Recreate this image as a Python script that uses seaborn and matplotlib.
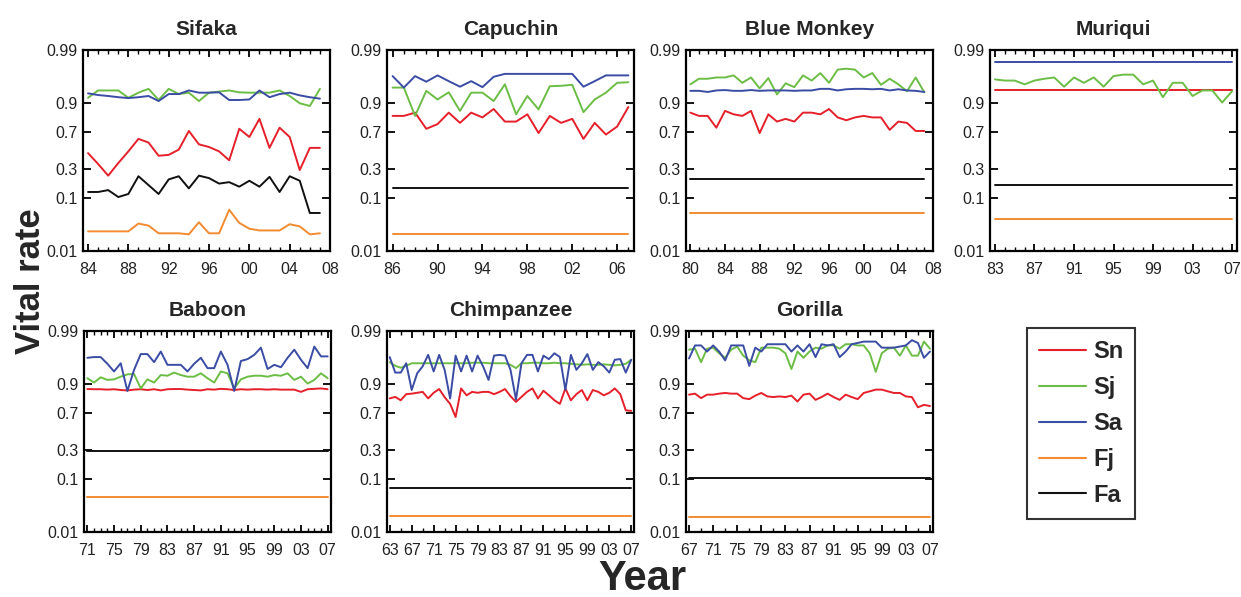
import numpy as np
import pandas as pd
import matplotlib
matplotlib.use("Agg")
import matplotlib.pyplot as plt
from matplotlib.lines import Line2D
from matplotlib.ticker import FixedLocator, NullLocator
import seaborn as sns

# --- rates & styling ---
RATES = ["Sn", "Sj", "Sa", "Fj", "Fa"]
COLORS = {"Sn": "#e5202a", "Sj": "#6cbd45", "Sa": "#3a4ca4", "Fj": "#f28b30", "Fa": "#111111"}
Y_TICKS = [0.01, 0.1, 0.3, 0.7, 0.9, 0.99]
Y_LABELS = ["0.01", "0.1", "0.3", "0.7", "0.9", "0.99"]

# --- Sifaka 1984-2007 ---
SIFAKA_SN = [0.47, 0.35, 0.24, 0.36, 0.49, 0.63, 0.59, 0.44, 0.45, 0.51, 0.71, 0.57,
             0.54, 0.49, 0.39, 0.73, 0.65, 0.81, 0.53, 0.74, 0.65, 0.29, 0.53, 0.53]
SIFAKA_SJ = [0.918, 0.94, 0.94, 0.94, 0.918, 0.934, 0.944, 0.91, 0.944, 0.93, 0.934, 0.906,
             0.934, 0.937, 0.94, 0.935, 0.934, 0.934, 0.934, 0.94, 0.924, 0.897, 0.885, 0.944]
SIFAKA_SA = [0.932, 0.927, 0.924, 0.92, 0.917, 0.92, 0.924, 0.906, 0.93, 0.93, 0.94, 0.934,
             0.934, 0.935, 0.91, 0.91, 0.912, 0.94, 0.92, 0.93, 0.934, 0.926, 0.92, 0.915]
SIFAKA_FJ = [0.024, 0.024, 0.024, 0.024, 0.024, 0.034, 0.031, 0.022, 0.022, 0.022, 0.021, 0.036,
             0.022, 0.022, 0.062, 0.035, 0.027, 0.025, 0.025, 0.025, 0.033, 0.030, 0.021, 0.022]
SIFAKA_FA = [0.13, 0.13, 0.14, 0.106, 0.12, 0.235, 0.17, 0.12, 0.21, 0.235, 0.15, 0.24,
             0.22, 0.18, 0.19, 0.16, 0.20, 0.16, 0.23, 0.13, 0.235, 0.20, 0.054, 0.054]

# --- Capuchin 1986-2007 ---
CAPUCHIN_SN = [0.83, 0.83, 0.85, 0.73, 0.77, 0.85, 0.78, 0.85, 0.82, 0.87, 0.79,
               0.79, 0.84, 0.69, 0.83, 0.78, 0.81, 0.63, 0.78, 0.675, 0.75, 0.88]
CAPUCHIN_SJ = [0.947, 0.947, 0.83, 0.939, 0.912, 0.935, 0.86, 0.934, 0.934, 0.906, 0.954,
               0.84, 0.924, 0.868, 0.95, 0.951, 0.953, 0.853, 0.912, 0.934, 0.957, 0.958]
CAPUCHIN_SA = [0.968, 0.947, 0.968, 0.959, 0.969, 0.96, 0.949, 0.96, 0.948, 0.967, 0.971,
               0.971, 0.971, 0.971, 0.971, 0.971, 0.971, 0.949, 0.96, 0.969, 0.969, 0.969]
CAPUCHIN_FJ = 0.021
CAPUCHIN_FA = 0.15

# --- Blue Monkey 1980-2007 ---
BLUE_SN = [0.85, 0.83, 0.83, 0.74, 0.86, 0.84, 0.83, 0.86, 0.69, 0.84, 0.79, 0.81, 0.79, 0.85,
           0.85, 0.84, 0.87, 0.82, 0.80, 0.82, 0.83, 0.82, 0.82, 0.72, 0.79, 0.78, 0.71, 0.71]
BLUE_SJ = [0.954, 0.964, 0.964, 0.966, 0.966, 0.969, 0.957, 0.966, 0.945, 0.965, 0.929, 0.956,
           0.948, 0.969, 0.961, 0.972, 0.957, 0.976, 0.977, 0.976, 0.966, 0.972, 0.953, 0.964,
           0.954, 0.938, 0.966, 0.935]
BLUE_SA = [0.939, 0.939, 0.936, 0.94, 0.941, 0.939, 0.939, 0.941, 0.939, 0.94, 0.94, 0.94,
           0.939, 0.94, 0.94, 0.944, 0.944, 0.94, 0.943, 0.944, 0.944, 0.943, 0.944, 0.94,
           0.943, 0.94, 0.939, 0.936]
BLUE_FJ = 0.053
BLUE_FA = 0.21

# --- Muriqui 1983-2007 ---
MURIQUI_SJ = [0.963, 0.961, 0.961, 0.954, 0.961, 0.964, 0.966, 0.949, 0.966, 0.957, 0.966,
              0.949, 0.968, 0.97, 0.97, 0.954, 0.961, 0.92, 0.957, 0.957, 0.924, 0.94,
              0.94, 0.90, 0.938]
MURIQUI_SN = 0.94
MURIQUI_SA = 0.983
MURIQUI_FJ = 0.041
MURIQUI_FA = 0.17

# --- Baboon 1971-2007 ---
BABOON_SN = [0.875, 0.874, 0.874, 0.872, 0.874, 0.87, 0.868, 0.872, 0.874, 0.87, 0.874, 0.868,
             0.874, 0.875, 0.875, 0.872, 0.87, 0.868, 0.874, 0.872, 0.876, 0.874, 0.87, 0.874,
             0.872, 0.874, 0.874, 0.872, 0.874, 0.872, 0.872, 0.872, 0.86, 0.874, 0.876,
             0.878, 0.874]
BABOON_SJ = [0.92, 0.904, 0.923, 0.914, 0.916, 0.925, 0.932, 0.933, 0.878, 0.916, 0.904, 0.93,
             0.928, 0.937, 0.93, 0.925, 0.925, 0.935, 0.92, 0.904, 0.94, 0.935, 0.878, 0.916,
             0.925, 0.928, 0.928, 0.925, 0.93, 0.928, 0.935, 0.914, 0.925, 0.9, 0.914,
             0.935, 0.92]
BABOON_SA = [0.967, 0.968, 0.968, 0.957, 0.94, 0.958, 0.865, 0.944, 0.972, 0.972, 0.96, 0.975,
             0.955, 0.955, 0.955, 0.94, 0.957, 0.967, 0.948, 0.948, 0.975, 0.955, 0.865, 0.962,
             0.965, 0.971, 0.979, 0.946, 0.955, 0.95, 0.967, 0.977, 0.964, 0.948, 0.98,
             0.969, 0.969]
BABOON_FJ = 0.047
BABOON_FA = 0.29

# --- Chimpanzee 1963-2007 ---
CHIMP_SN = [0.82, 0.83, 0.807, 0.847, 0.85, 0.855, 0.86, 0.82, 0.855, 0.875, 0.828, 0.78,
            0.66, 0.878, 0.84, 0.86, 0.855, 0.86, 0.86, 0.847, 0.86, 0.875, 0.835, 0.795,
            0.83, 0.86, 0.878, 0.82, 0.866, 0.84, 0.807, 0.78, 0.878, 0.807, 0.847, 0.87,
            0.807, 0.87, 0.86, 0.84, 0.855, 0.878, 0.847, 0.725, 0.72]
CHIMP_SJ = [0.96, 0.953, 0.949, 0.953, 0.958, 0.958, 0.958, 0.958, 0.958, 0.958, 0.958, 0.958,
            0.958, 0.958, 0.958, 0.959, 0.959, 0.959, 0.958, 0.958, 0.958, 0.958, 0.955, 0.948,
            0.958, 0.958, 0.959, 0.959, 0.958, 0.958, 0.959, 0.958, 0.958, 0.957, 0.956, 0.955,
            0.956, 0.955, 0.955, 0.956, 0.955, 0.954, 0.955, 0.957, 0.964]
CHIMP_SA = [0.968, 0.937, 0.937, 0.958, 0.87, 0.935, 0.952, 0.971, 0.94, 0.971, 0.944, 0.819,
            0.97, 0.94, 0.97, 0.94, 0.97, 0.952, 0.914, 0.97, 0.971, 0.97, 0.944, 0.812,
            0.958, 0.971, 0.971, 0.94, 0.97, 0.965, 0.973, 0.968, 0.87, 0.971, 0.944, 0.958,
            0.972, 0.944, 0.96, 0.952, 0.937, 0.964, 0.965, 0.937, 0.964]
CHIMP_FJ = 0.0206
CHIMP_FA = 0.07

# --- Gorilla 1967-2007 ---
GORILLA_SN = [0.844, 0.85, 0.822, 0.844, 0.844, 0.85, 0.854, 0.85, 0.85, 0.822, 0.815, 0.838,
              0.854, 0.833, 0.829, 0.833, 0.829, 0.838, 0.798, 0.844, 0.85, 0.81, 0.829, 0.85,
              0.829, 0.81, 0.844, 0.829, 0.815, 0.854, 0.863, 0.872, 0.872, 0.863, 0.854,
              0.854, 0.833, 0.829, 0.752, 0.772, 0.763]
GORILLA_SJ = [0.977, 0.978, 0.96, 0.978, 0.979, 0.973, 0.967, 0.977, 0.98, 0.97, 0.963, 0.96,
              0.979, 0.979, 0.979, 0.978, 0.973, 0.946, 0.975, 0.967, 0.975, 0.979, 0.978,
              0.981, 0.981, 0.978, 0.982, 0.982, 0.981, 0.981, 0.973, 0.939, 0.973, 0.978,
              0.979, 0.97, 0.981, 0.97, 0.97, 0.984, 0.978]
GORILLA_SA = [0.966, 0.981, 0.981, 0.975, 0.981, 0.975, 0.963, 0.981, 0.981, 0.981, 0.953,
              0.979, 0.975, 0.982, 0.982, 0.982, 0.982, 0.975, 0.981, 0.975, 0.982, 0.968,
              0.982, 0.981, 0.982, 0.968, 0.975, 0.982, 0.983, 0.984, 0.984, 0.984, 0.979,
              0.979, 0.979, 0.98, 0.981, 0.985, 0.983, 0.967, 0.975]
GORILLA_FJ = 0.0195
GORILLA_FA = 0.106

# (title, first year, last axis year, rates, minor tick step, pixel box left/top)
PANELS = [
    ("Sifaka", 1984, 2008, [SIFAKA_SN, SIFAKA_SJ, SIFAKA_SA, SIFAKA_FJ, SIFAKA_FA], 1, (83, 50)),
    ("Capuchin", 1986, 2007.5, [CAPUCHIN_SN, CAPUCHIN_SJ, CAPUCHIN_SA, CAPUCHIN_FJ, CAPUCHIN_FA], 1, (387, 50)),
    ("Blue Monkey", 1980, 2008, [BLUE_SN, BLUE_SJ, BLUE_SA, BLUE_FJ, BLUE_FA], 1, (686, 50)),
    ("Muriqui", 1983, 2007.5, [MURIQUI_SN, MURIQUI_SJ, MURIQUI_SA, MURIQUI_FJ, MURIQUI_FA], 1, (990, 50)),
    ("Baboon", 1971, 2007.5, [BABOON_SN, BABOON_SJ, BABOON_SA, BABOON_FJ, BABOON_FA], 1, (84, 331)),
    ("Chimpanzee", 1963, 2007.5, [CHIMP_SN, CHIMP_SJ, CHIMP_SA, CHIMP_FJ, CHIMP_FA], 2, (387, 331)),
    ("Gorilla", 1967, 2007.5, [GORILLA_SN, GORILLA_SJ, GORILLA_SA, GORILLA_FJ, GORILLA_FA], 2, (686, 331)),
]

W, H = 1241, 597
AX_W, AX_H = 247, 201

sns.set_style("ticks")
plt.rcParams["font.family"] = ["Liberation Sans", "DejaVu Sans"]

fig = plt.figure(figsize=(W / 100, H / 100), dpi=100)

for title, first, xmax, rates, minor_step, (px, py) in PANELS:
    ax = fig.add_axes([px / W, 1 - (py + AX_H) / H, AX_W / W, AX_H / H])
    years = np.arange(first, 2008)
    rows = []
    for name, vals in zip(RATES, rates):
        if np.isscalar(vals):
            vals = [vals] * len(years)  # constant rate across the series
        rows.append(pd.DataFrame({"year": years, "value": vals, "rate": name}))
    df = pd.concat(rows, ignore_index=True)

    sns.lineplot(data=df, x="year", y="value", hue="rate", hue_order=RATES,
                 palette=COLORS, estimator=None, legend=False, linewidth=1.4, ax=ax)

    ax.set_yscale("logit")
    ax.set_ylim(0.0099, 0.9901)
    ax.yaxis.set_major_locator(FixedLocator(Y_TICKS))
    ax.set_yticklabels(Y_LABELS)
    ax.yaxis.set_minor_locator(NullLocator())

    ax.set_xlim(first - 0.5, xmax)
    major = [y for y in range(first, 2009, 4) if y <= xmax]
    ax.xaxis.set_major_locator(FixedLocator(major))
    ax.set_xticklabels([f"{y % 100:02d}" for y in major])
    ax.xaxis.set_minor_locator(FixedLocator(list(range(first, 2008, minor_step))))

    ax.set_xlabel("")
    ax.set_ylabel("")
    ax.set_title(title, fontsize=15, fontweight="bold", pad=11)
    ax.tick_params(which="both", direction="in", top=True, right=True, colors="black",
                   labelcolor="#222222", labelsize=11.5)
    ax.tick_params(axis="x", which="major", length=5, width=1.3, pad=8)
    ax.tick_params(axis="y", which="major", length=6, width=1.3, pad=4)
    ax.tick_params(which="minor", length=3, width=1.0)
    for sp in ax.spines.values():
        sp.set_visible(True)
        sp.set_linewidth(1.6)
        sp.set_color("black")

handles = [Line2D([0], [0], color=COLORS[r], linewidth=1.5) for r in RATES]
leg = fig.legend(handles, RATES, loc="upper left", bbox_to_anchor=(1027 / W, 1 - 328 / H),
                 borderaxespad=0, prop={"weight": "bold", "size": 17}, frameon=True,
                 fancybox=False, edgecolor="black", handlelength=2.0, handletextpad=0.3,
                 labelspacing=0.55, borderpad=0.5)
leg.get_frame().set_linewidth(1.5)

fig.text(30 / W, 1 - 281 / H, "Vital rate", rotation=90, ha="center", va="center",
         fontsize=25, fontweight="bold")
fig.text(642 / W, 1 - 579 / H, "Year", ha="center", va="center",
         fontsize=30, fontweight="bold")

fig.savefig("out.png", dpi=100)
